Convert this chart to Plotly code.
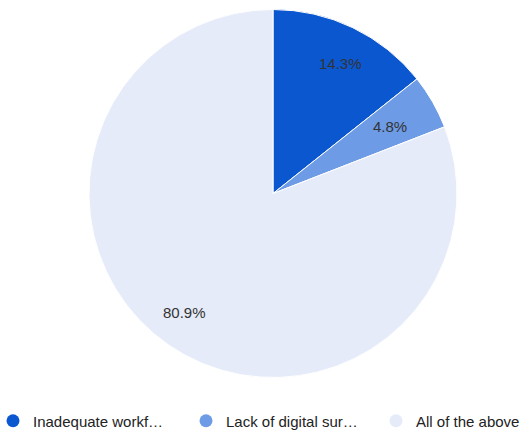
import math
import plotly.graph_objects as go

# Shares of responses per category (percent)
categories = ["Inadequate workf\u2026", "Lack of digital sur\u2026", "All of the above"]
shares = [14.3, 4.8, 80.9]
colors = ["#0B57D0", "#6D9BE6", "#E5EBF8"]

W, H = 528, 430
cx, cy = 273, 236.5          # pie centre in px (y measured from bottom)
R = 184                      # pie radius in px

fig = go.Figure()
fig.add_trace(go.Pie(
    labels=categories,
    values=shares,
    sort=False,
    direction="clockwise",
    rotation=0,
    marker=dict(colors=colors, line=dict(color="white", width=1)),
    textinfo="none",
    hoverinfo="label+percent",
    showlegend=False,
    domain=dict(x=[(cx - R) / W, (cx + R) / W], y=[(cy - R) / H, (cy + R) / H]),
))

# Percentage labels placed along each slice's mid-angle
total = sum(shares)
cum = 0.0
for v in shares:
    mid = (cum + v / 2) / total * 2 * math.pi
    cum += v
    fig.add_annotation(
        x=(cx + 0.85 * R * math.sin(mid)) / W,
        y=(cy + 0.85 * R * math.cos(mid)) / H,
        xref="paper", yref="paper",
        text=f"{v / total * 100:.1f}%",
        showarrow=False,
        font=dict(family="Liberation Sans, Arial", size=15, color="#333333"),
    )

# One legend per category, laid out in a row along the bottom
legend_names = ["legend", "legend2", "legend3"]
legend_x = [-7, 186, 376]     # px from the left edge
for name, c, lg in zip(categories, colors, legend_names):
    fig.add_trace(go.Scatter(
        x=[None], y=[None], mode="markers", name=name, legend=lg,
        marker=dict(symbol="circle", size=13, color=c),
    ))

legend_style = dict(
    orientation="h",
    xanchor="left",
    yref="container",
    y=9 / H, yanchor="middle",
    bgcolor="rgba(0,0,0,0)",
    font=dict(family="Liberation Sans, Arial", size=15, color="#222222"),
    itemclick=False,
)

fig.update_layout(
    width=W, height=H,
    margin=dict(l=0, r=0, t=0, b=0, autoexpand=False),
    paper_bgcolor="white",
    plot_bgcolor="white",
    xaxis=dict(visible=False),
    yaxis=dict(visible=False),
    showlegend=True,
    **{lg: dict(x=px / W, **legend_style) for lg, px in zip(legend_names, legend_x)},
)

fig.write_html("out.html")
